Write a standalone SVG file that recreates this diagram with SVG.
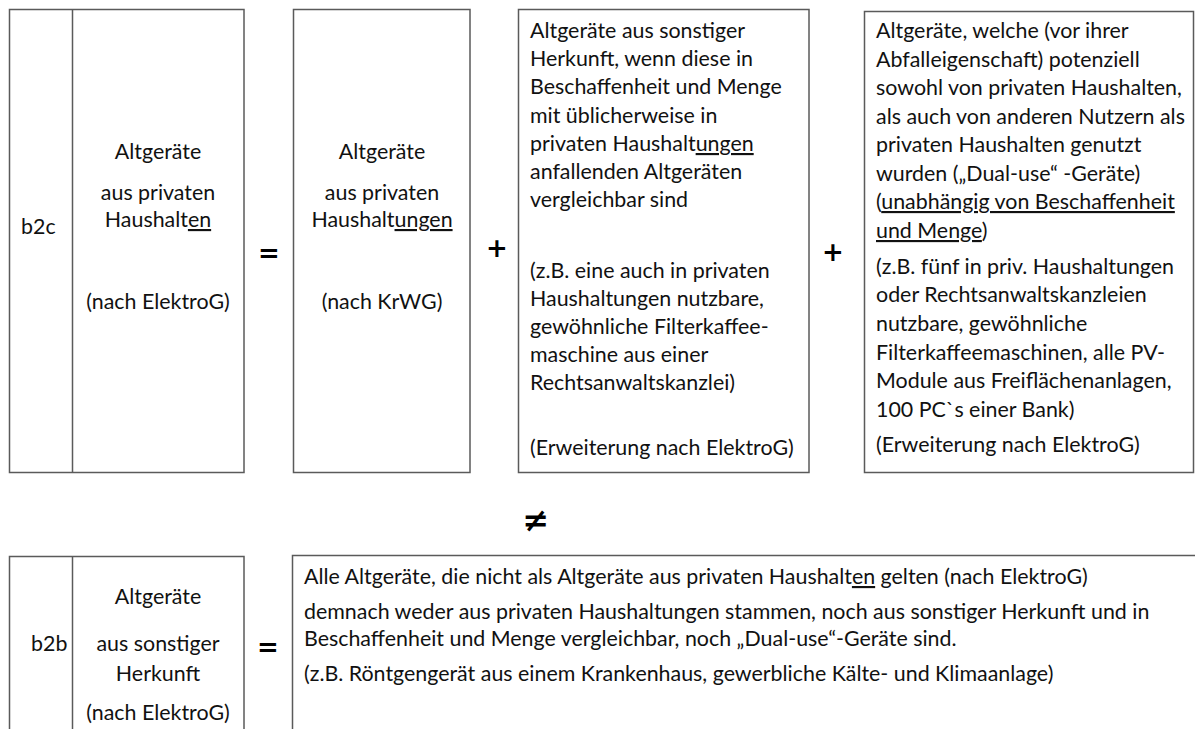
<svg xmlns="http://www.w3.org/2000/svg" width="1195" height="729" viewBox="0 0 1195 729">
<style>
.box{fill:#fff;stroke:#5a5a5a;stroke-width:1.5}
.div{stroke:#5a5a5a;stroke-width:1.5}
text{font-family:Lato,"Open Sans","Liberation Sans",sans-serif;font-size:21.4px;fill:#111}
.c{text-anchor:middle}
.op{font-family:"DejaVu Sans","Liberation Sans",sans-serif;font-size:26px;font-weight:bold;text-anchor:middle;fill:#000}
.ne{font-size:32px}
.u{text-decoration:underline}
</style>
<rect width="1195" height="729" fill="#fff"/>
<g id="connectors"></g>
<g id="b2c">
<rect class="box" x="9.5" y="9.5" width="234.5" height="463"/>
<line class="div" x1="72.5" y1="9.5" x2="72.5" y2="472.5"/>
<text x="21" y="234">b2c</text>
<text class="c" x="158" y="159">Altgeräte</text>
<text class="c" x="158" y="200">aus privaten</text>
<text class="c" x="158" y="227">Haushalt<tspan class="u">en</tspan></text>
<text class="c" x="158" y="309">(nach ElektroG)</text>
</g>
<g id="haushaltungen">
<rect class="box" x="293.5" y="9.5" width="176.5" height="463"/>
<text class="c" x="382" y="159">Altgeräte</text>
<text class="c" x="382" y="200">aus privaten</text>
<text class="c" x="382" y="227">Haushalt<tspan class="u">ungen</tspan></text>
<text class="c" x="382" y="309">(nach KrWG)</text>
</g>
<g id="sonstige-vergleichbar">
<rect class="box" x="518.5" y="9.5" width="290.5" height="463"/>
<text x="530" y="38">Altgeräte aus sonstiger</text>
<text x="530" y="66">Herkunft, wenn diese in</text>
<text x="530" y="94">Beschaffenheit und Menge</text>
<text x="530" y="123">mit üblicherweise in</text>
<text x="530" y="151">privaten Haushalt<tspan class="u">ungen</tspan></text>
<text x="530" y="179">anfallenden Altgeräten</text>
<text x="530" y="207">vergleichbar sind</text>
<text x="530" y="278">(z.B. eine auch in privaten</text>
<text x="530" y="306">Haushaltungen nutzbare,</text>
<text x="530" y="334">gewöhnliche Filterkaffee-</text>
<text x="530" y="362">maschine aus einer</text>
<text x="530" y="390">Rechtsanwaltskanzlei)</text>
<text x="530" y="455">(Erweiterung nach ElektroG)</text>
</g>
<g id="dual-use">
<rect class="box" x="864.5" y="11.5" width="329" height="461"/>
<text x="876" y="38">Altgeräte, welche (vor ihrer</text>
<text x="876" y="66.5">Abfalleigenschaft) potenziell</text>
<text x="876" y="95">sowohl von privaten Haushalten,</text>
<text x="876" y="123.5">als auch von anderen Nutzern als</text>
<text x="876" y="152">privaten Haushalten genutzt</text>
<text x="876" y="180.5">wurden („Dual-use“ -Geräte)</text>
<text x="876" y="209">(<tspan class="u">unabhängig von Beschaffenheit</tspan></text>
<text x="876" y="238"><tspan class="u">und Menge</tspan>)</text>
<text x="876" y="274">(z.B. fünf in priv. Haushaltungen</text>
<text x="876" y="302">oder Rechtsanwaltskanzleien</text>
<text x="876" y="331">nutzbare, gewöhnliche</text>
<text x="876" y="360">Filterkaffeemaschinen, alle PV-</text>
<text x="876" y="388">Module aus Freiflächenanlagen,</text>
<text x="876" y="417">100 PC`s einer Bank)</text>
<text x="876" y="452">(Erweiterung nach ElektroG)</text>
</g>
<g id="b2b">
<rect class="box" x="9.5" y="556.5" width="234.5" height="200"/>
<line class="div" x1="72.5" y1="556.5" x2="72.5" y2="740"/>
<text x="31" y="651">b2b</text>
<text class="c" x="158" y="604">Altgeräte</text>
<text class="c" x="158" y="651">aus sonstiger</text>
<text class="c" x="158" y="681">Herkunft</text>
<text class="c" x="158" y="720">(nach ElektroG)</text>
</g>
<g id="sonstige-definition">
<rect class="box" x="292.5" y="555.5" width="920" height="200"/>
<text x="304" y="584">Alle Altgeräte, die nicht als Altgeräte aus privaten Haushalt<tspan class="u">en</tspan> gelten (nach ElektroG)</text>
<text x="304" y="619">demnach weder aus privaten Haushaltungen stammen, noch aus sonstiger Herkunft und in</text>
<text x="304" y="646">Beschaffenheit und Menge vergleichbar, noch „Dual-use“-Geräte sind.</text>
<text x="304" y="681">(z.B. Röntgengerät aus einem Krankenhaus, gewerbliche Kälte- und Klimaanlage)</text>
</g>
<g id="operators">
<text class="op" x="269" y="262">=</text>
<text class="op" x="497" y="257">+</text>
<text class="op" x="833" y="261">+</text>
<text class="op ne" x="536" y="531">≠</text>
<text class="op" x="268" y="656">=</text>
</g>
</svg>
